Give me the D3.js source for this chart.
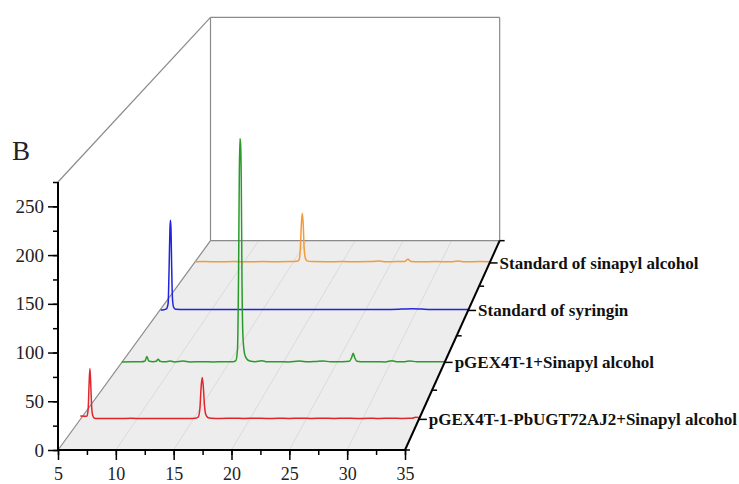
<!DOCTYPE html>
<html>
<head>
<meta charset="utf-8">
<script src="https://cdn.jsdelivr.net/npm/d3@7"></script>
<style>
  body { margin: 0; background: #fff; }
  text { font-family: "Liberation Serif", "Times New Roman", serif; }
</style>
</head>
<body>
<div id="chart"></div>
<script>
// tick labels
const timeTicks = [5, 10, 15, 20, 25, 30, 35];
const intensityTicks = [0, 50, 100, 150, 200, 250];

// samples, front to back
const sampleNames = [
  "pGEX4T-1-PbUGT72AJ2+Sinapyl alcohol",
  "pGEX4T-1+Sinapyl alcohol",
  "Standard of syringin",
  "Standard of sinapyl alcohol"
];

// chromatograms as [retention time (min), intensity]
const redTrace = [
  [5.0, 3.5], [5.4, 3.4], [5.6, 3.6], [5.7, 12], [5.78, 38], [5.85, 53.5], [5.92, 38], [6.0, 14],
  [6.1, 4], [6.25, 1.2], [6.6, 0.8], [7.5, 1.0], [8.5, 0.8], [9.5, 1.1], [10.5, 0.9], [11.5, 1.0],
  [12.5, 0.8], [13.5, 1.0], [14.5, 0.9], [15.2, 1.2], [15.45, 2.5], [15.6, 12], [15.7, 33], [15.8, 44],
  [15.9, 34], [16.0, 15], [16.12, 5], [16.3, 2], [16.6, 1.2], [17.5, 1.0], [18.5, 1.3], [19.5, 1.0],
  [20.5, 1.2], [21.5, 0.9], [22.5, 1.1], [23.5, 1.0], [24.5, 1.2], [25.5, 1.0], [26.5, 1.3], [27.5, 1.0],
  [28.5, 1.2], [29.5, 0.9], [30.5, 1.1], [31.5, 1.0], [32.5, 1.2], [33.5, 1.0], [34.4, 1.1], [34.7, 2.2],
  [35, 2.0]
];
const greenTrace = [
  [5.0, 0.5], [6.0, 0.8], [6.8, 0.6], [7.15, 1.5], [7.33, 6.5], [7.5, 1.5], [7.9, 0.8], [8.2, 1.2],
  [8.37, 3.5], [8.55, 1.2], [9.0, 0.6], [9.5, 1.5], [9.9, 0.5], [10.7, 1.5], [11.3, 0.5], [12.5, 0.7],
  [13.5, 0.5], [14.5, 0.8], [15.3, 0.6], [15.6, 2], [15.75, 15], [15.85, 100], [15.92, 210], [15.98, 247],
  [16.04, 240], [16.1, 200], [16.16, 100], [16.25, 30], [16.4, 10], [16.6, 4], [16.9, 1.5], [17.4, 0.8],
  [18.0, 1.8], [18.5, 0.6], [19.5, 0.8], [20.5, 0.5], [21.5, 1.4], [22.3, 0.6], [23.0, 1.0], [23.7, 1.6],
  [24.4, 0.6], [25.5, 0.7], [26.15, 1.2], [26.35, 5], [26.5, 10], [26.65, 5], [26.85, 1.2], [27.5, 0.6],
  [28.5, 0.8], [29.5, 0.5], [30.1, 1.8], [30.6, 0.6], [31.3, 0.7], [31.8, 1.6], [32.4, 0.6], [33.5, 0.8],
  [35, 0.6]
];
const blueTrace = [
  [5.1, 0.5], [5.4, 0.8], [5.65, 1.8], [5.82, 8], [5.92, 50], [6.0, 95], [6.05, 104], [6.1, 95],
  [6.16, 55], [6.24, 15], [6.35, 4], [6.55, 1.5], [7.5, 1.0], [9, 1.1], [11, 1.0], [13, 1.1],
  [15, 1.0], [17, 1.1], [19, 1.0], [21, 1.1], [23, 1.0], [25, 1.1], [27, 1.2], [28.5, 1.6],
  [29.6, 2.0], [30.5, 1.6], [32, 1.1], [33.5, 1.0], [35, 1.1]
];
const orangeTrace = [
  [5.05, 1.5], [6, 1.6], [7.5, 1.5], [9, 1.6], [10.5, 1.5], [12, 1.6], [13.5, 1.5], [14.8, 1.6],
  [15.45, 2], [15.65, 4], [15.78, 18], [15.87, 45], [15.97, 60], [16.07, 46], [16.16, 18], [16.3, 5],
  [16.5, 2.2], [17, 1.6], [18.5, 1.5], [20, 1.6], [21.5, 1.5], [23, 1.6], [23.8, 2.2], [24.5, 1.5],
  [25.5, 1.6], [26.4, 1.8], [26.7, 4.5], [27.0, 1.8], [28, 1.5], [29.5, 1.6], [31, 1.5], [31.8, 2.2],
  [32.5, 1.5], [34, 1.6], [35, 1.5]
];

const traces = [redTrace, greenTrace, blueTrace, orangeTrace];
const traceColors = ["#e0262b", "#2a9a2a", "#2323dc", "#f39a3a"];

// Chart dimensions
const width = 739;
const height = 484;

// Front plane scales
const x = d3.scaleLinear().domain([5, 35]).range([58, 405]);
const y = d3.scaleLinear().domain([0, 275]).range([450, 182]);
// depth 0 = front, 4 = back wall
const depth = d3.scaleLinear().domain([0, 4]).range([0, 1]);

// simple perspective: shrink towards a vanishing point with depth
const vanish = [973, -806];
const shrink = 0.2;
function project(t, v, d) {
    const s = 1 / (1 + shrink * depth(d));
    return [vanish[0] + (x(t) - vanish[0]) * s, vanish[1] + (y(v) - vanish[1]) * s];
}

const svg = d3.select("#chart").append("svg")
    .attr("width", width)
    .attr("height", height)
    .attr("viewBox", [0, 0, width, height]);

// Floor
const floor = [project(5, 0, 0), project(35, 0, 0), project(35, 0, 4), project(5, 0, 4)];
svg.append("path")
    .attr("d", "M" + floor.join("L") + "Z")
    .attr("fill", "#ededed");

// Floor grid lines along the depth direction
svg.append("g")
    .selectAll("line")
    .data(timeTicks.slice(1, -1))
    .join("line")
    .attr("x1", d => project(d, 0, 0)[0])
    .attr("y1", d => project(d, 0, 0)[1])
    .attr("x2", d => project(d, 0, 4)[0])
    .attr("y2", d => project(d, 0, 4)[1])
    .attr("stroke", "#d6d6d6")
    .attr("stroke-width", 0.8);

// Walls (outlines only)
const yMax = 275;
const frame = [
    [project(5, 0, 0), project(5, 0, 4)],
    [project(5, yMax, 0), project(5, yMax, 4)],
    [project(5, 0, 4), project(35, 0, 4)],
    [project(5, 0, 4), project(5, yMax, 4)],
    [project(35, 0, 4), project(35, yMax, 4)],
    [project(5, yMax, 4), project(35, yMax, 4)]
];
svg.append("g")
    .selectAll("line")
    .data(frame)
    .join("line")
    .attr("x1", d => d[0][0])
    .attr("y1", d => d[0][1])
    .attr("x2", d => d[1][0])
    .attr("y2", d => d[1][1])
    .attr("stroke", "#8a8a8a")
    .attr("stroke-width", 1.2);

// Traces, drawn back to front
const line = d3.line().curve(d3.curveMonotoneX);
[3, 2, 1, 0].forEach(i => {
    const pts = traces[i].map(p => project(p[0], p[1], i + 0.5));
    svg.append("path")
        .attr("d", line(pts))
        .attr("fill", "none")
        .attr("stroke", traceColors[i])
        .attr("stroke-width", 1.5)
        .attr("stroke-linejoin", "round");
});

// Y axis
svg.append("g")
    .attr("transform", `translate(${x(5)},0)`)
    .call(d3.axisLeft(y).tickValues(d3.range(0, 276, 25)).tickSize(5).tickFormat(""))
    .call(g => g.select(".domain").remove())
    .call(g => g.selectAll("line").attr("stroke", "#000").attr("stroke-width", 1.5));
svg.append("g")
    .attr("transform", `translate(${x(5)},0)`)
    .call(d3.axisLeft(y).tickValues(intensityTicks).tickSize(10).tickPadding(4))
    .call(g => g.select(".domain").remove())
    .call(g => g.selectAll("line").attr("stroke", "#000").attr("stroke-width", 1.5))
    .call(g => g.selectAll("text")
        .attr("font-family", "Liberation Serif, serif")
        .attr("font-size", 19)
        .attr("fill", "#222"));
svg.append("line")
    .attr("x1", x(5)).attr("x2", x(5))
    .attr("y1", y(0)).attr("y2", y(yMax))
    .attr("stroke", "#000").attr("stroke-width", 2);

// X axis
svg.append("g")
    .attr("transform", `translate(0,${y(0)})`)
    .call(d3.axisBottom(x).tickValues(d3.range(5, 35.1, 2.5)).tickSize(5).tickFormat(""))
    .call(g => g.select(".domain").remove())
    .call(g => g.selectAll("line").attr("stroke", "#000").attr("stroke-width", 1.5));
svg.append("g")
    .attr("transform", `translate(0,${y(0)})`)
    .call(d3.axisBottom(x).tickValues(timeTicks).tickSize(10).tickPadding(7))
    .call(g => g.select(".domain").remove())
    .call(g => g.selectAll("line").attr("stroke", "#000").attr("stroke-width", 1.5))
    .call(g => g.selectAll("text")
        .attr("font-family", "Liberation Serif, serif")
        .attr("font-size", 18)
        .attr("fill", "#222"));
svg.append("line")
    .attr("x1", x(5)).attr("x2", x(35))
    .attr("y1", y(0)).attr("y2", y(0))
    .attr("stroke", "#000").attr("stroke-width", 2);

// Depth axis on the right
const d0 = project(35, 0, 0);
const d4 = project(35, 0, 4);
svg.append("line")
    .attr("x1", d0[0]).attr("y1", d0[1])
    .attr("x2", d4[0]).attr("y2", d4[1])
    .attr("stroke", "#000").attr("stroke-width", 2);

svg.append("g")
    .selectAll("line")
    .data([0, 1, 2, 3, 4])
    .join("line")
    .attr("x1", d => project(35, 0, d)[0])
    .attr("y1", d => project(35, 0, d)[1])
    .attr("x2", d => project(35, 0, d)[0] + 5)
    .attr("y2", d => project(35, 0, d)[1])
    .attr("stroke", "#000").attr("stroke-width", 1.5);

const labels = svg.append("g")
    .selectAll("g")
    .data(sampleNames)
    .join("g")
    .attr("transform", (d, i) => `translate(${project(35, 0, i + 0.5)})`);
labels.append("line")
    .attr("x2", 8)
    .attr("stroke", "#000").attr("stroke-width", 1.5);
labels.append("text")
    .attr("x", 10)
    .attr("dy", "0.35em")
    .attr("font-size", 17)
    .attr("font-weight", "bold")
    .attr("fill", "#111")
    .text(d => d);

// Panel letter
svg.append("text")
    .attr("x", 12)
    .attr("y", 160)
    .attr("font-size", 27)
    .attr("fill", "#222")
    .text("B");
</script>
</body>
</html>
